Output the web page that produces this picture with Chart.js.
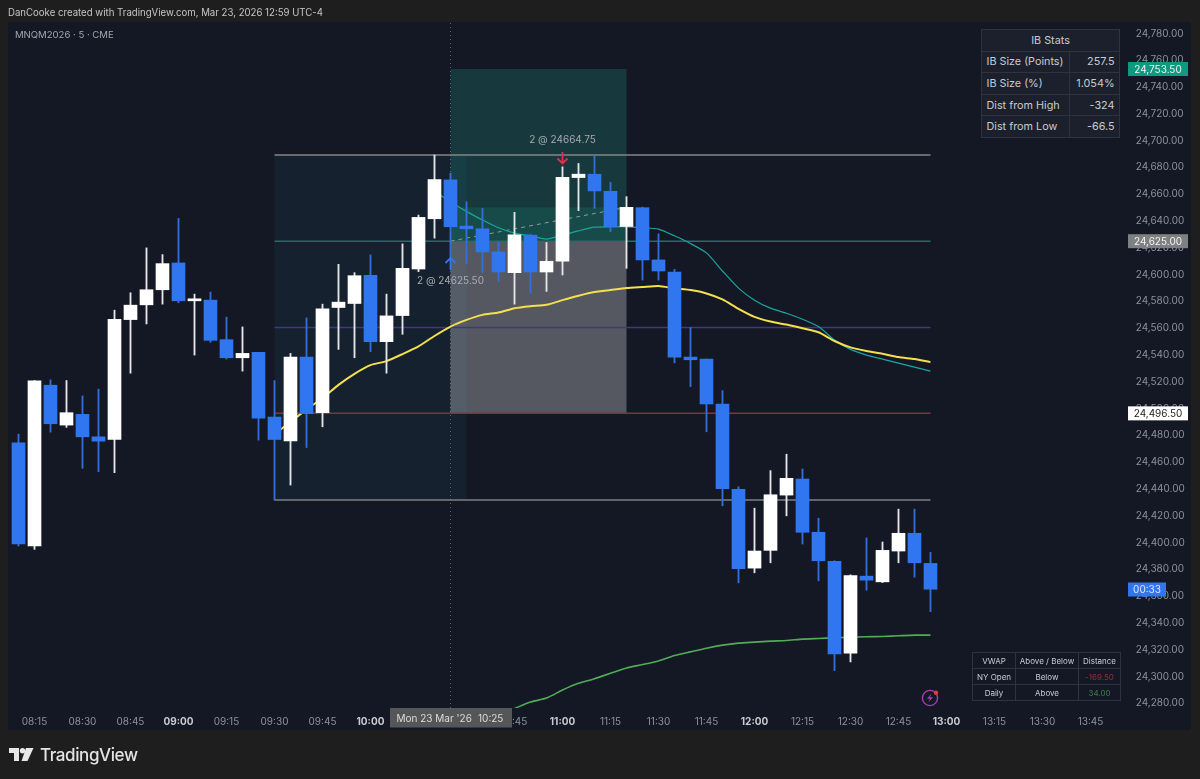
<!DOCTYPE html>
<html>
<head>
<meta charset="utf-8">
<title>MNQM2026 5m</title>
<script src="https://cdn.jsdelivr.net/npm/chart.js@4"></script>
<style>
  html, body { margin: 0; padding: 0; background: #1e1e1e; width: 1200px; height: 779px; overflow: hidden; font-family: Inter, sans-serif; }
  #panel { position: absolute; left: 8px; top: 22px; width: 1183px; height: 708px; background: #141824; }
  #chart { position: absolute; left: 0; top: 0; }
  #credit { position: absolute; left: 8px; top: 7px; font-size: 9.65px; color: #c6c6c6; white-space: nowrap; }
  #symbol { position: absolute; left: 15px; top: 29px; font-size: 9.55px; color: #a3a6ae; white-space: nowrap; }
  table { position: absolute; border-collapse: collapse; color: #c9cbd0; }
  #ibStats { left: 981px; top: 29px; width: 139px; height: 108px; background: #1c202c; font-size: 10.8px; }
  #ibStats td { border: 1px solid #2f333f; padding: 0 4.5px; height: 20.6px; white-space: nowrap; }
  #ibStats td.num { text-align: right; width: 40px; }
  #ibStats td.head { text-align: center; }
  #vwap { left: 972px; top: 652px; width: 148px; height: 49px; font-size: 8px; table-layout: fixed; }
  #vwap td { border: 1px solid #2f333f; padding: 0; height: 15px; text-align: center; white-space: nowrap; }
  .neg { color: #94303c; }
  .pos { color: #3f7d48; }
  #logo { position: absolute; left: 9px; top: 747px; }
  #brand { position: absolute; left: 40px; top: 745px; font-size: 17px; font-weight: 500; letter-spacing: -0.4px; color: #e4e4e4; }
  #flash { position: absolute; left: 920px; top: 688px; }
</style>
</head>
<body>
<div id="panel"></div>
<canvas id="chart" width="1200" height="779"></canvas>
<div id="credit">DanCooke created with TradingView.com, Mar 23, 2026 12:59 UTC-4</div>
<div id="symbol">MNQM2026 · 5 · CME</div>
<table id="ibStats">
  <tr><td class="head" colspan="2">IB Stats</td></tr>
  <tr><td>IB Size (Points)</td><td class="num">257.5</td></tr>
  <tr><td>IB Size (%)</td><td class="num">1.054%</td></tr>
  <tr><td>Dist from High</td><td class="num">-324</td></tr>
  <tr><td>Dist from Low</td><td class="num">-66.5</td></tr>
</table>
<table id="vwap">
  <colgroup><col style="width:43px"><col style="width:63px"><col style="width:42px"></colgroup>
  <tr><td>VWAP</td><td>Above / Below</td><td>Distance</td></tr>
  <tr><td>NY Open</td><td>Below</td><td class="neg">-169.50</td></tr>
  <tr><td>Daily</td><td>Above</td><td class="pos">34.00</td></tr>
</table>
<svg id="logo" width="26" height="16" viewBox="0 0 26 16">
  <path d="M0 1h10v13H5V6H0z" fill="#e8e8e8"/>
  <circle cx="13.5" cy="3.8" r="2.7" fill="#e8e8e8"/>
  <path d="M17 1h7.5L18.5 14h-6z" fill="#e8e8e8"/>
</svg>
<div id="brand">TradingView</div>
<svg id="flash" width="20" height="20" viewBox="0 0 20 20">
  <circle cx="10" cy="10" r="7.6" fill="none" stroke="#a63fb4" stroke-width="1.4"/>
  <path d="M11.5 5.5L7 10.8h3L8.4 14.6l4.6-5.4h-3z" fill="#a63fb4"/>
  <circle cx="16" cy="4.8" r="2.2" fill="#f0323c"/>
</svg>
<script>
// Bougies 5 min, de 08:10 a 12:55 (indice 0 = 08:10)
const opens = [24474.5, 24397.5, 24517.5, 24487.75, 24495.75, 24479, 24477, 24566.5, 24577.5, 24588.75,
  24608.75, 24580.5, 24581, 24551.5, 24538, 24542, 24493.75, 24476, 24538.5, 24497,
  24575.5, 24578.5, 24599.5, 24550, 24569.5, 24604.25, 24641.75, 24670.75, 24636.25, 24634.25,
  24617, 24601.5, 24629.5, 24602, 24610, 24672.5, 24675, 24662.25, 24636, 24650,
  24611, 24602, 24538.5, 24537, 24503.5, 24439.75, 24381, 24394.25, 24435.5, 24447.5,
  24407.75, 24386, 24317.5, 24375, 24370.75, 24393.75, 24407, 24384.5];
const highs = [24481, 24521, 24521.5, 24521, 24509.5, 24514.5, 24573.5, 24586.5, 24620, 24615,
  24642, 24585.5, 24587, 24568.25, 24561, 24542, 24521, 24541.25, 24567.75, 24578,
  24607.75, 24601.5, 24614.75, 24585.5, 24623, 24644.5, 24689.25, 24675.75, 24654.5, 24649.5,
  24624.5, 24646.5, 24630.25, 24624, 24680.5, 24683, 24688.5, 24669, 24658.25, 24650.5,
  24630.5, 24604, 24560.5, 24537, 24513.5, 24441.75, 24425.75, 24453.75, 24466, 24455,
  24418.25, 24386.5, 24376, 24403.5, 24400.5, 24425, 24425, 24392.75];
const lows = [24397.5, 24395, 24482.5, 24486, 24455.5, 24453, 24452.25, 24526.5, 24563.25, 24578,
  24579, 24540, 24549.5, 24537, 24528, 24476.5, 24431.75, 24443, 24471, 24486.5,
  24544.25, 24538, 24542.5, 24526.5, 24555.5, 24602.25, 24627.25, 24612.25, 24608.5, 24601.5,
  24594.75, 24578, 24586, 24587.5, 24599.75, 24647.75, 24649.5, 24632, 24604.75, 24596,
  24596, 24534.25, 24516.5, 24482.75, 24427.5, 24370, 24377.5, 24385, 24420, 24399,
  24371.5, 24304.5, 24311, 24364.5, 24370.25, 24385, 24374.25, 24348.5];
const closes = [24399, 24520.75, 24488.75, 24497, 24479, 24475.75, 24566.75, 24577.25, 24588.75, 24608.25,
  24580.5, 24582, 24551, 24538, 24541.25, 24493, 24477, 24538.5, 24496.25, 24574.5,
  24579.5, 24599.25, 24550, 24569.25, 24604.75, 24642.75, 24671, 24635.75, 24634.25, 24617,
  24602, 24629.75, 24602, 24610, 24672.75, 24675, 24662.5, 24635.75, 24650.25, 24611,
  24602.75, 24538.5, 24536.5, 24503.5, 24440.25, 24380.5, 24393.75, 24435.75, 24448, 24407.75,
  24386.5, 24317, 24375.5, 24372, 24394.25, 24407, 24385, 24365.25];

// EMA jaune : indices 16 a 57
const yellowEma = [24481, 24490, 24499.5, 24507.75, 24517.75, 24526, 24532.5, 24535.5, 24540.75, 24546.5,
  24554.25, 24561.25, 24566.25, 24570, 24571.75, 24575, 24576.5, 24577.5, 24581, 24584.25,
  24587, 24588.5, 24590, 24590.75, 24591.5, 24589.75, 24588.5, 24586, 24581.5, 24574.5,
  24568.5, 24565, 24562.75, 24560, 24557, 24550.5, 24545.75, 24543, 24541, 24538.5, 24537, 24534.75];
// EMA turquoise : indices 26 a 57
const tealEma = [24662.5, 24654.25, 24647.25, 24640.75, 24635, 24631, 24629, 24626.5, 24629.5, 24632.75,
  24635.5, 24635.75, 24635.75, 24635, 24634, 24629, 24623.25, 24616.25, 24602.75, 24590,
  24581, 24575, 24571.25, 24566.75, 24561.25, 24551.25, 24544.25, 24540, 24537, 24534, 24531, 24528];
// VWAP vert : indices 31 a 57
const greenVwap = [24276.25, 24281, 24284, 24290, 24295, 24298.5, 24302.5, 24306.5, 24309, 24311.75,
  24315.75, 24318.5, 24321.25, 24323.5, 24325, 24325.75, 24326.5, 24327, 24328, 24328.5,
  24329, 24329.5, 24329.75, 24330, 24330.5, 24331, 24331];

// Niveaux IB (haut, 75%, milieu, 25%, bas)
const ibLevels = [24689.25, 24625, 24560.5, 24496.5, 24431.75];
const ibLevelColors = ['#85868a', '#1f6f69', '#46357f', '#86303f', '#7d7f84'];
const ibBars = [16, 57];
const ibBoxBars = [16, 28];

// Position longue
const positionBars = [27, 38];
const entryPrice = 24625;
const targetPrice = 24753.5;
const stopPrice = 24496.5;
const lastPrice = 24650.25;

// Axes
const priceTicks = [24280, 24300, 24320, 24340, 24360, 24380, 24400, 24420, 24440, 24460, 24480, 24500, 24520,
  24540, 24560, 24580, 24600, 24620, 24640, 24660, 24680, 24700, 24720, 24740, 24760, 24780];
const timeTicks = ['08:15', '08:30', '08:45', '09:00', '09:15', '09:30', '09:45', '10:00', '10:15', '10:30', '10:45', '11:00',
  '11:15', '11:30', '11:45', '12:00', '12:15', '12:30', '12:45', '13:00', '13:15', '13:30', '13:45'];
const timeTickBars = [1, 4, 7, 10, 13, 16, 19, 22, 25, 28, 31, 34, 37, 40, 43, 46, 49, 52, 55, 58, 61, 64, 67];

const BLUE = '#2f76f0';
const WHITE = '#ffffff';
const TEXT = '#8d919b';

function fromBar(first, values) {
  return values.map((v, i) => ({ x: first + i, y: v }));
}

// Les heures pleines sont en gras sur l'axe du temps
function isHourTick(c) {
  if (!c.tick) return false;
  const label = timeTicks[timeTickBars.indexOf(c.tick.value)];
  return !!label && label.endsWith(':00');
}

// Zones de fond : boite IB et outil de position
const zonesPlugin = {
  id: 'zones',
  beforeDatasetsDraw(chart) {
    const { ctx, scales: { x, y }, chartArea } = chart;
    const rect = (x1, x2, p1, p2, color) => {
      ctx.fillStyle = color;
      ctx.fillRect(x.getPixelForValue(x1), y.getPixelForValue(p1),
        x.getPixelForValue(x2) - x.getPixelForValue(x1), y.getPixelForValue(p2) - y.getPixelForValue(p1));
    };
    rect(ibBoxBars[0], ibBoxBars[1], ibLevels[0], ibLevels[4], 'rgba(30,90,110,0.14)');
    rect(positionBars[0], positionBars[1], targetPrice, entryPrice, 'rgba(30,150,130,0.25)');
    rect(positionBars[0], positionBars[1], lastPrice, entryPrice, 'rgba(30,180,150,0.16)');
    rect(positionBars[0], positionBars[1], entryPrice, stopPrice, 'rgba(255,255,255,0.28)');
    // Reticule vertical
    const cx = x.getPixelForValue(positionBars[0]);
    ctx.save();
    ctx.strokeStyle = 'rgba(160,160,170,0.55)';
    ctx.lineWidth = 1;
    ctx.setLineDash([1, 3]);
    ctx.beginPath();
    ctx.moveTo(cx, chartArea.top);
    ctx.lineTo(cx, chartArea.bottom);
    ctx.stroke();
    ctx.restore();
  }
};

function priceTag(ctx, y, text, left, right, fill, color) {
  ctx.fillStyle = fill;
  ctx.fillRect(left, y - 7, right - left, 14);
  ctx.fillStyle = color;
  ctx.textAlign = 'center';
  ctx.textBaseline = 'middle';
  ctx.fillText(text, (left + right) / 2, y + 0.5);
}

// Fleches de trade et etiquettes par-dessus les axes
const marksPlugin = {
  id: 'marks',
  afterDraw(chart) {
    const { ctx, scales: { x, y } } = chart;
    ctx.save();
    ctx.font = '10px Inter';

    // Entree
    const ex = x.getPixelForValue(positionBars[0]);
    ctx.strokeStyle = BLUE;
    ctx.lineWidth = 1.8;
    ctx.beginPath();
    ctx.moveTo(ex, 270); ctx.lineTo(ex, 258);
    ctx.moveTo(ex - 5, 263); ctx.lineTo(ex, 258); ctx.lineTo(ex + 5, 263);
    ctx.stroke();
    ctx.fillStyle = '#a9abb1';
    ctx.textAlign = 'center';
    ctx.textBaseline = 'middle';
    ctx.fillText('2 @ 24625.50', ex, 281);

    // Sortie
    const sx = x.getPixelForValue(34);
    ctx.strokeStyle = '#e0314a';
    ctx.beginPath();
    ctx.moveTo(sx, 152); ctx.lineTo(sx, 163.5);
    ctx.moveTo(sx - 5, 158.5); ctx.lineTo(sx, 163.5); ctx.lineTo(sx + 5, 158.5);
    ctx.stroke();
    ctx.fillText('2 @ 24664.75', sx, 139.5);

    // Etiquettes de prix
    priceTag(ctx, y.getPixelForValue(targetPrice), '24,753.50', 1128, 1188, '#0d9a80', '#f2f2f2');
    priceTag(ctx, y.getPixelForValue(entryPrice), '24,625.00', 1128, 1188, '#7f8082', '#f2f2f2');
    priceTag(ctx, y.getPixelForValue(stopPrice), '24,496.50', 1128, 1188, '#ffffff', '#1c1c1c');
    priceTag(ctx, 589.5, '00:33', 1128, 1166, BLUE, '#dfe8ff');

    // Etiquette de date
    ctx.fillStyle = '#555658';
    ctx.fillRect(390, 708, 122, 19.5);
    ctx.fillStyle = '#dcdcdc';
    ctx.textAlign = 'left';
    ctx.fillText("Mon 23 Mar '26", 396.5, 718.5);
    ctx.fillText('10:25', 478, 718.5);
    ctx.restore();
  }
};

new Chart(document.getElementById('chart'), {
  type: 'bar',
  plugins: [zonesPlugin, marksPlugin],
  data: {
    datasets: [
      {
        label: 'corps',
        order: 1,
        data: opens.map((o, i) => ({ x: i, y: [o, closes[i]] })),
        backgroundColor: opens.map((o, i) => closes[i] >= o ? WHITE : BLUE),
        maxBarThickness: 13,
        grouped: false,
        categoryPercentage: 1,
        barPercentage: 1
      },
      {
        label: 'meches',
        order: 2,
        data: lows.map((l, i) => ({ x: i, y: [l, highs[i]] })),
        backgroundColor: opens.map((o, i) => closes[i] >= o ? '#e6e6e6' : '#2f6fe0'),
        maxBarThickness: 1.2,
        grouped: false,
        categoryPercentage: 1,
        barPercentage: 1
      },
      { type: 'line', label: 'EMA', order: 3, data: fromBar(16, yellowEma), borderColor: '#f4e04d', borderWidth: 2, pointRadius: 0, tension: 0.2 },
      { type: 'line', label: 'EMA 2', order: 4, data: fromBar(26, tealEma), borderColor: '#1ba5a0', borderWidth: 1.2, pointRadius: 0, tension: 0.2 },
      { type: 'line', label: 'VWAP', order: 4, data: fromBar(31, greenVwap), borderColor: '#52ab56', borderWidth: 1.6, pointRadius: 0, tension: 0.2 },
      { type: 'line', label: 'trade', order: 5, data: [{ x: positionBars[0], y: entryPrice }, { x: positionBars[1], y: lastPrice }],
        borderColor: '#8f9a9a', borderWidth: 1, borderDash: [4, 4], pointRadius: 0 },
      ...ibLevels.map((level, i) => ({
        type: 'line', label: 'IB ' + i, order: 6,
        data: ibBars.map(b => ({ x: b, y: level })),
        borderColor: ibLevelColors[i], borderWidth: 1.5, pointRadius: 0
      }))
    ]
  },
  options: {
    responsive: false,
    animation: false,
    events: [],
    layout: { padding: { left: 8, top: 23, right: 9, bottom: 49 } },
    plugins: { legend: { display: false }, tooltip: { enabled: false }, title: { display: false } },
    scales: {
      x: {
        type: 'linear',
        offset: false,
        min: -0.656,
        max: 69.094,
        grid: { display: false },
        border: { display: false },
        afterBuildTicks: s => { s.ticks = timeTickBars.map(v => ({ value: v })); },
        afterFit: s => { s.height = 22; },
        ticks: {
          autoSkip: false,
          maxRotation: 0,
          padding: 0,
          color: c => isHourTick(c) ? '#c9cbd0' : TEXT,
          callback: v => timeTicks[timeTickBars.indexOf(v)],
          font: c => ({ family: 'Inter', size: 10, weight: isHourTick(c) ? '700' : '400' })
        }
      },
      y: {
        position: 'right',
        min: 24276.6,
        max: 24787.84,
        grid: { display: false },
        border: { display: false },
        afterBuildTicks: s => { s.ticks = priceTicks.map(v => ({ value: v })); },
        afterFit: s => { s.width = 67; },
        ticks: {
          padding: 3.7,
          color: TEXT,
          font: { family: 'Inter', size: 10 },
          callback: v => v.toLocaleString('en-US', { minimumFractionDigits: 2, maximumFractionDigits: 2 })
        }
      }
    }
  }
});
</script>
</body>
</html>
